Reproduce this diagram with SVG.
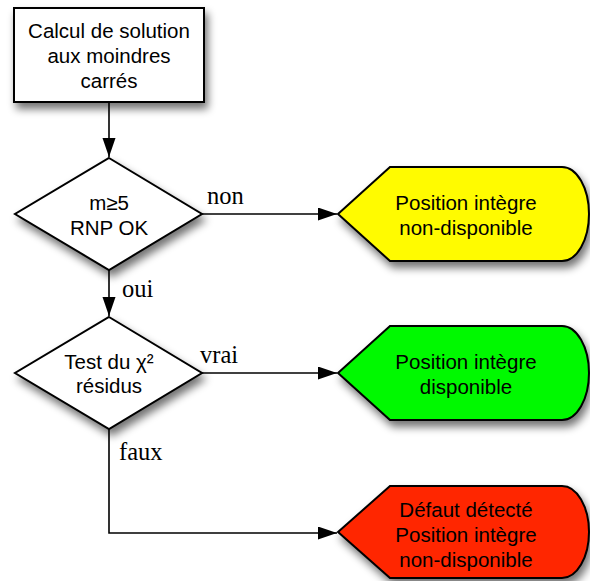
<svg xmlns="http://www.w3.org/2000/svg" width="590" height="581" viewBox="0 0 590 581">
<style>
.shape{stroke:#000;stroke-width:2;filter:url(#sh)}
.t{font-family:"Liberation Sans",Arial,sans-serif;font-size:20.5px;text-anchor:middle;fill:#000}
.lbl{font-family:"Liberation Serif","Times New Roman",serif;font-size:24.5px;fill:#000}
.conn{fill:none;stroke:#000;stroke-width:1.6;marker-end:url(#ah)}
</style>
<defs>
<filter id="sh" x="-20%" y="-20%" width="150%" height="160%">
<feGaussianBlur in="SourceAlpha" stdDeviation="4"/>
<feOffset dx="3" dy="6" result="b"/>
<feComponentTransfer><feFuncA type="linear" slope="0.55"/></feComponentTransfer>
<feMerge><feMergeNode/><feMergeNode in="SourceGraphic"/></feMerge>
</filter>
<marker id="ah" markerUnits="userSpaceOnUse" markerWidth="20" markerHeight="14" refX="19" refY="6.5" orient="auto">
<path d="M0,0 L19,6.5 L0,13 Z" fill="#000"/>
</marker>
</defs>
<rect width="590" height="581" fill="#fff"/>
<g id="connectors">
<path class="conn" d="M109,102 L109,157"/>
<path class="conn" d="M202,214 L337,214"/>
<path class="conn" d="M109,270 L109,316"/>
<path class="conn" d="M202,373 L337,373"/>
<path class="conn" d="M109,429 L109,533 L337,533"/>
<text class="lbl" x="207" y="204">non</text>
<text class="lbl" x="122" y="297">oui</text>
<text class="lbl" x="200" y="363">vrai</text>
<text class="lbl" x="119" y="460">faux</text>
</g>
<g id="calcul">
<rect class="shape" x="14" y="8" width="190" height="94" fill="#fff"/>
<text class="t" x="109" y="38">Calcul de solution</text>
<text class="t" x="109" y="63">aux moindres</text>
<text class="t" x="109" y="88">carrés</text>
</g>
<g id="test1">
<path class="shape" d="M109,158 L202,214 L109,270 L15,214 Z" fill="#fff"/>
<text class="t" x="109" y="210">m≥5</text>
<text class="t" x="109" y="235">RNP OK</text>
</g>
<g id="test2">
<path class="shape" d="M109,317 L202,373 L109,429 L15,373 Z" fill="#fff"/>
<text class="t" x="109" y="369">Test du χ²</text>
<text class="t" x="109" y="393">résidus</text>
</g>
<g id="nondispo">
<path class="shape" d="M338,214 L390,167 L562,167 A27,47 0 0 1 562,261 L390,261 Z" fill="#FFFB00"/>
<text class="t" x="466" y="210">Position intègre</text>
<text class="t" x="466" y="235">non-disponible</text>
</g>
<g id="dispo">
<path class="shape" d="M338,373 L390,326 L562,326 A27,47 0 0 1 562,420 L390,420 Z" fill="#00F900"/>
<text class="t" x="466" y="369">Position intègre</text>
<text class="t" x="466" y="394">disponible</text>
</g>
<g id="defaut">
<path class="shape" d="M338,532 L390,486 L562,486 A27,46 0 0 1 562,578 L390,578 Z" fill="#FF2600"/>
<text class="t" x="466" y="517">Défaut détecté</text>
<text class="t" x="466" y="542">Position intègre</text>
<text class="t" x="466" y="567">non-disponible</text>
</g>
</svg>
